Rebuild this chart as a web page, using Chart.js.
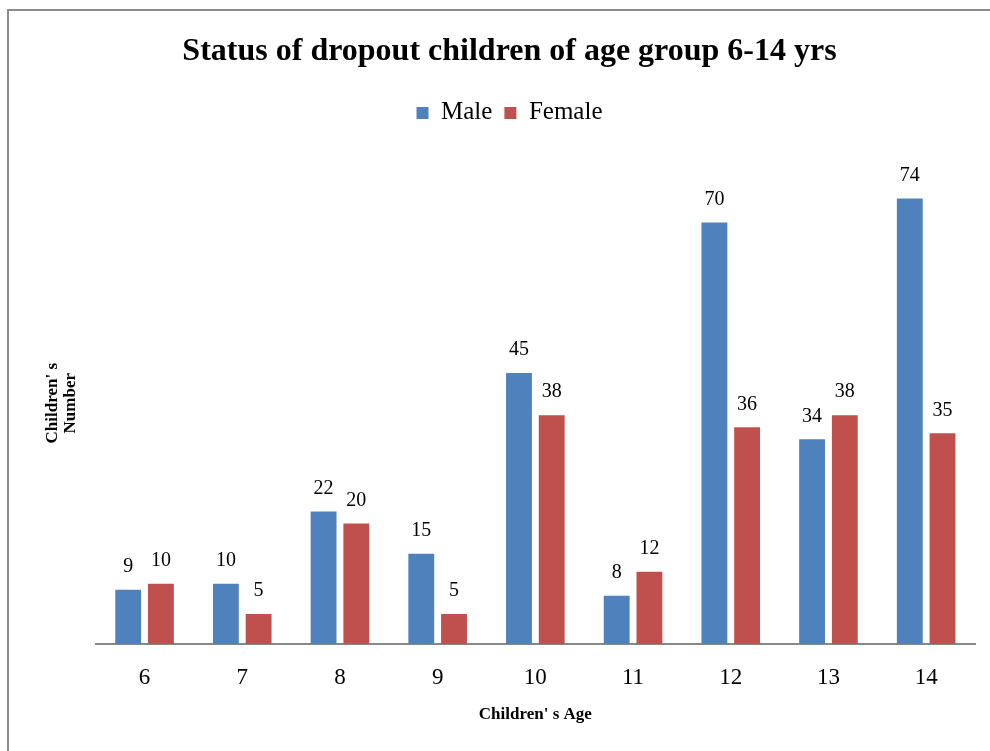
<!DOCTYPE html>
<html>
<head>
<meta charset="utf-8">
<script src="https://cdn.jsdelivr.net/npm/chart.js@4.4.1/dist/chart.umd.min.js"></script>
<style>
  body { margin: 0; background: #fff; }
  #wrap { position: relative; width: 990px; height: 751px; }
  #frame { position: absolute; left: 7px; top: 9px; right: -10px; bottom: -10px;
           border-left: 2px solid #8c8c8c; border-top: 2px solid #8c8c8c; }
  canvas { position: absolute; left: 0; top: 0; }
</style>
</head>
<body>
<div id="wrap">
  <div id="frame"></div>
  <canvas id="myChart" width="990" height="751"></canvas>
</div>
<script>
const ages = ['6', '7', '8', '9', '10', '11', '12', '13', '14'];
const male = [9, 10, 22, 15, 45, 8, 70, 34, 74];
const female = [10, 5, 20, 5, 38, 12, 36, 38, 35];

const serif = "'Liberation Serif', 'Times New Roman', serif";

// value labels above each bar
const barLabels = {
    id: 'barLabels',
    afterDatasetsDraw(chart) {
        const ctx = chart.ctx;
        ctx.save();
        ctx.font = '20px ' + serif;
        ctx.fillStyle = '#000';
        ctx.textAlign = 'center';
        ctx.textBaseline = 'middle';
        chart.data.datasets.forEach((ds, i) => {
            chart.getDatasetMeta(i).data.forEach((bar, j) => {
                ctx.fillText(ds.data[j], bar.x, bar.y - 23);
            });
        });
        ctx.restore();
    }
};

// extra room between the legend and the bars
const legendGap = {
    id: 'legendGap',
    beforeInit(chart) {
        const fit = chart.legend.fit;
        chart.legend.fit = function () {
            fit.bind(chart.legend)();
            this.height += 27;
        };
    }
};

let ctx = document.getElementById('myChart').getContext('2d');
let myChart = new Chart(ctx, {
    type: 'bar',
    data: {
        labels: ages,
        datasets: [
            {
                label: 'Male',
                data: male,
                backgroundColor: '#4f81bd'
            },
            {
                label: 'Female',
                data: female,
                backgroundColor: '#c0504d'
            }
        ]
    },
    options: {
        responsive: false,
        animation: false,
        layout: {
            padding: { left: 44, right: 15, top: 22, bottom: 26 }
        },
        datasets: {
            bar: { categoryPercentage: 0.67, barPercentage: 0.79 }
        },
        scales: {
            x: {
                grid: { display: false },
                border: { display: true, color: '#888', width: 2 },
                ticks: { color: '#000', font: { family: serif, size: 23 }, padding: 12 },
                title: {
                    display: true,
                    text: "Children' s Age",
                    color: '#000',
                    font: { family: serif, size: 17, weight: 'bold' },
                    padding: { top: 1, bottom: 0 }
                }
            },
            y: {
                min: 0,
                max: 80,
                grid: { display: false },
                border: { display: false },
                ticks: { display: false },
                title: {
                    display: true,
                    text: ["Children' s", 'Number'],
                    color: '#000',
                    font: { family: serif, size: 17, weight: 'bold', lineHeight: 1.05 },
                    padding: { top: 0, bottom: 8 }
                }
            }
        },
        plugins: {
            title: {
                display: true,
                text: 'Status of dropout children of age group 6-14 yrs',
                color: '#000',
                font: { family: serif, size: 32, weight: 'bold' },
                padding: { top: 11, bottom: 17 }
            },
            legend: {
                position: 'top',
                labels: {
                    color: '#000',
                    font: { family: serif, size: 25 },
                    boxWidth: 12,
                    boxHeight: 12,
                    padding: 12
                }
            },
            tooltip: { enabled: false }
        }
    },
    plugins: [barLabels, legendGap]
});
</script>
</body>
</html>
